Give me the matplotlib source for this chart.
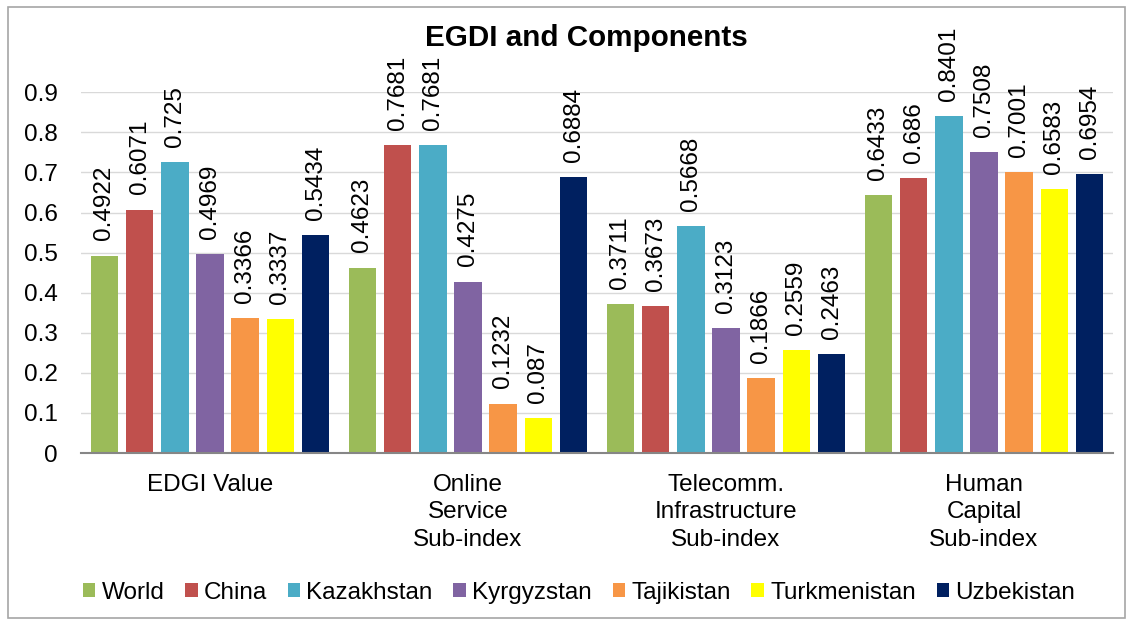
import matplotlib
matplotlib.use("Agg")
import matplotlib.pyplot as plt
from matplotlib.patches import Rectangle
import numpy as np

plt.rcParams['font.family'] = ['Liberation Sans', 'DejaVu Sans']

categories = ["EDGI Value", "Online\nService\nSub-index", "Telecomm.\nInfrastructure\nSub-index", "Human\nCapital\nSub-index"]
series_names = ["World", "China", "Kazakhstan", "Kyrgyzstan", "Tajikistan", "Turkmenistan", "Uzbekistan"]
world = [0.4922, 0.4623, 0.3711, 0.6433]
china = [0.6071, 0.7681, 0.3673, 0.686]
kazakhstan = [0.725, 0.7681, 0.5668, 0.8401]
kyrgyzstan = [0.4969, 0.4275, 0.3123, 0.7508]
tajikistan = [0.3366, 0.1232, 0.1866, 0.7001]
turkmenistan = [0.3337, 0.087, 0.2559, 0.6583]
uzbekistan = [0.5434, 0.6884, 0.2463, 0.6954]
label_texts = [
    ["0.4922", "0.4623", "0.3711", "0.6433"],
    ["0.6071", "0.7681", "0.3673", "0.686"],
    ["0.725", "0.7681", "0.5668", "0.8401"],
    ["0.4969", "0.4275", "0.3123", "0.7508"],
    ["0.3366", "0.1232", "0.1866", "0.7001"],
    ["0.3337", "0.087", "0.2559", "0.6583"],
    ["0.5434", "0.6884", "0.2463", "0.6954"],
]
yticks = [0, 0.1, 0.2, 0.3, 0.4, 0.5, 0.6, 0.7, 0.8, 0.9]
ytick_labels = ["0", "0.1", "0.2", "0.3", "0.4", "0.5", "0.6", "0.7", "0.8", "0.9"]
colors = ["#9BBB59", "#C0504D", "#4BACC6", "#8064A2", "#F79646", "#FFFF00", "#002060"]

series = [world, china, kazakhstan, kyrgyzstan, tajikistan, turkmenistan, uzbekistan]

FS = 17.5

fig = plt.figure(figsize=(11.33, 6.25), dpi=100)
ax = fig.add_axes([81/1133, 1 - 453/625, 1032/1133, (453-92.3)/625])

x = np.arange(len(categories))
pitch = 0.1364
width = 0.107
for i, (name, vals, col) in enumerate(zip(series_names, series, colors)):
    pos = x + (i - 3) * pitch
    bars = ax.bar(pos, vals, width, color=col, label=name, zorder=3)
    for b, t in zip(bars, label_texts[i]):
        ax.annotate(t, (b.get_x() + b.get_width()/2, b.get_height()),
                    xytext=(0, 11), textcoords="offset points",
                    rotation=90, ha="center", va="bottom", fontsize=FS,
                    annotation_clip=False, clip_on=False)

ax.set_xlim(-0.5, 3.5)
ax.set_ylim(0, 0.9)
ax.set_yticks(yticks)
ax.set_yticklabels(ytick_labels, fontsize=FS)
ax.set_xticks(x)
ax.set_xticklabels(categories, fontsize=FS, linespacing=1.32, va="top")
ax.tick_params(axis='both', length=0)
ax.tick_params(axis='y', pad=17)
ax.tick_params(axis='x', pad=15)
ax.grid(axis='y', color="#D9D9D9", linewidth=1, zorder=0)
for s in ["top", "left", "right"]:
    ax.spines[s].set_visible(False)
ax.spines["bottom"].set_color("#868686")
ax.spines["bottom"].set_linewidth(1.5)
ax.spines["bottom"].set_zorder(4)

fig.text(586/1133, 1 - 38/625, "EGDI and Components", ha="center", va="center",
         fontsize=21.3, fontweight="bold")

leg = fig.legend(loc="center", bbox_to_anchor=(579/1133, 1 - 593/625), ncol=7, frameon=False,
                 fontsize=FS, handlelength=0.52, handleheight=0.52, handletextpad=0.25,
                 columnspacing=0.85)

fig.patches.append(Rectangle((8/1133, 7/625), 1117/1133, 611/625, transform=fig.transFigure,
                             fill=False, edgecolor="#A6A6A6", linewidth=1.2))

fig.savefig("out.png", dpi=100)
